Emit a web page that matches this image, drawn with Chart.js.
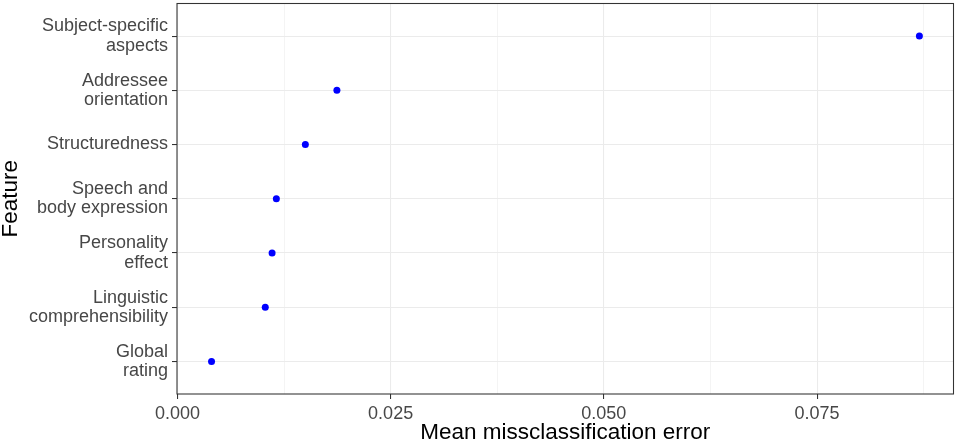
<!DOCTYPE html>
<html>
<head>
<meta charset="utf-8">
<script src="https://cdn.jsdelivr.net/npm/chart.js@4"></script>
<style>
html,body{margin:0;padding:0;background:#fff;}
#wrap{width:957px;height:444px;}
</style>
</head>
<body>
<div id="wrap"><canvas id="c" width="957" height="444"></canvas></div>
<script>
const features = [
  ["Subject-specific","aspects"],
  ["Addressee","orientation"],
  ["Structuredness"],
  ["Speech and","body expression"],
  ["Personality","effect"],
  ["Linguistic","comprehensibility"],
  ["Global","rating"]
];
const errors = [0.0870, 0.0187, 0.0150, 0.0116, 0.0111, 0.0103, 0.0040];
const xMajorTicks = [0, 0.025, 0.05, 0.075];
const xMinorTicks = [0.0125, 0.0375, 0.0625, 0.0875];
const xTickLabels = ["0.000","0.025","0.050","0.075"];

const points = errors.map((v,i)=>({x:v, y:i+1}));
const allXTicks = xMajorTicks.concat(xMinorTicks).sort((a,b)=>a-b);
const isMajor = v => xMajorTicks.some(m=>Math.abs(m-v)<1e-9);

const borderPlugin = {
  id:'panelBorder',
  afterDraw(chart){
    const a = chart.chartArea, ctx = chart.ctx;
    ctx.save();
    ctx.strokeStyle = '#333333';
    ctx.lineWidth = 1.07;
    ctx.strokeRect(a.left, a.top, a.right-a.left, a.bottom-a.top);
    ctx.restore();
  }
};

new Chart(document.getElementById('c'), {
  type:'scatter',
  data:{datasets:[{data:points, backgroundColor:'#0000FF', borderColor:'#0000FF', pointRadius:3.5, pointHoverRadius:3.5, borderWidth:0}]},
  options:{
    responsive:false, animation:false, devicePixelRatio:1,
    layout:{padding:{top:2,right:3,left:0,bottom:0}},
    plugins:{legend:{display:false}, tooltip:{enabled:false}},
    scales:{
      x:{
        type:'linear', min:-0.00005, max:0.0910,
        afterBuildTicks(s){ s.ticks = allXTicks.map(v=>({value:v})); },
        afterFit(s){ s.height = 50; s.paddingLeft = 0; s.paddingRight = 0; },
        border:{display:false},
        grid:{
          color:'#EBEBEB',
          lineWidth: c => isMajor(c.tick.value) ? 1.07 : 0.53,
          tickColor: c => isMajor(c.tick.value) ? '#333333' : 'rgba(0,0,0,0)',
          tickWidth: 1.07, tickLength:5
        },
        ticks:{
          autoSkip:false, maxRotation:0, padding:4, color:'#474747',
          font:{family:'"Liberation Sans", Arial, sans-serif', size:18},
          callback:(v)=>{ const i = xMajorTicks.findIndex(m=>Math.abs(m-v)<1e-9); return i>=0 ? xTickLabels[i] : ''; }
        },
        title:{display:true, text:'Mean missclassification error', color:'#000',
          font:{family:'"Liberation Sans", Arial, sans-serif', size:22.5, lineHeight:1.0}, padding:{top:0,bottom:0}}
      },
      y:{
        type:'linear', min:0.4, max:7.6, reverse:true,
        afterBuildTicks(s){ s.ticks = features.map((f,i)=>({value:i+1})); },
        afterFit(s){ s.width = 177; s.paddingTop = 0; s.paddingBottom = 0; },
        border:{display:false},
        grid:{color:'#EBEBEB', lineWidth:1.07, tickColor:'#333333', tickWidth:1.07, tickLength:5},
        ticks:{
          autoSkip:false, padding:4, color:'#474747',
          font:{family:'"Liberation Sans", Arial, sans-serif', size:18, lineHeight:1.07},
          callback:(v)=>features[Math.round(v)-1]
        },
        title:{display:true, text:'Feature', color:'#000',
          font:{family:'"Liberation Sans", Arial, sans-serif', size:22.5, lineHeight:1.0}, padding:{top:0,bottom:0}}
      }
    }
  },
  plugins:[borderPlugin]
});
</script>
</body>
</html>
